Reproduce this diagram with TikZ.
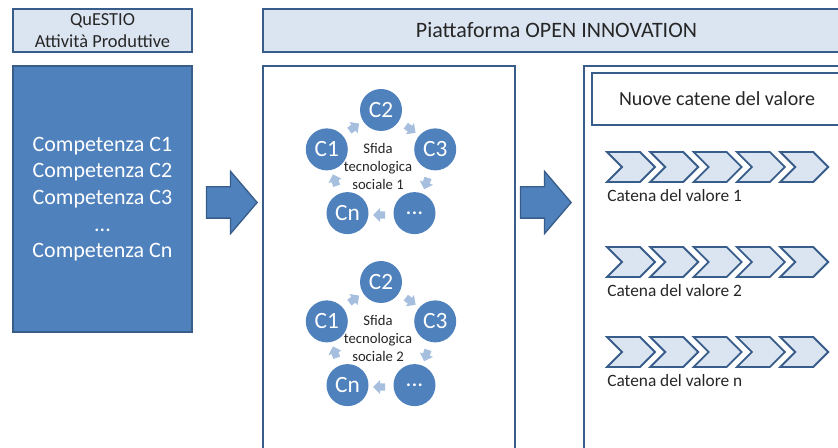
\documentclass[tikz,border=0pt]{standalone}
\usepackage{fontspec}
\setmainfont{Carlito}
\usepackage{tikz}
\usetikzlibrary{shapes.symbols, shapes.arrows, calc}

\definecolor{pblue}{HTML}{4F81BD}
\definecolor{pborder}{HTML}{385D8A}
\definecolor{plight}{HTML}{DBE5F1}
\definecolor{parrow}{HTML}{A7BFDE}
\definecolor{ptext}{HTML}{262626}

\begin{document}
\begin{tikzpicture}[x=0.75pt, y=-0.75pt,
    box/.style={rectangle, draw=pborder, line width=1.4pt, inner sep=0pt},
    headbox/.style={box, fill=plight, text=ptext},
    bigarrow/.style={single arrow, fill=pblue, draw=pborder, line width=1pt,
      inner sep=0pt, text height=22.5pt, minimum height=38pt, anchor=tip,
      single arrow head extend=11.6pt, single arrow tip angle=99},
    comp/.style={circle, fill=pblue, text=white, minimum size=31.5pt,
      inner sep=0pt, font=\fontsize{17.5}{20}\selectfont},
    cyarrow/.style={single arrow, fill=parrow, inner sep=0pt, text height=5pt,
      minimum height=9pt, single arrow head extend=2.5pt},
    chev/.style={signal, signal from=west, signal to=east, signal pointer angle=90,
      draw=pborder, fill=plight, line width=1.4pt, minimum width=36pt,
      minimum height=22.5pt, inner sep=0pt},
    catlabel/.style={anchor=west, text=ptext, inner sep=0pt,
      font=\fontsize{13}{15}\selectfont}]
  \useasboundingbox (0,0) rectangle (838,448);
  \clip (0,0) rectangle (838,448);

  % left column
  \node[headbox, minimum width=134.25pt, minimum height=32.25pt, align=center,
    font=\fontsize{13.8}{16}\selectfont] (questio) at (102.5,30.5)
    {QuESTIO\\Attività Produttive};
  \node[box, fill=pblue, text=white, minimum width=134.25pt, minimum height=199.5pt,
    align=center, font=\fontsize{16.5}{20}\selectfont] (compet) at (102.5,199)
    {Competenza C1\\Competenza C2\\Competenza C3\\...\\Competenza Cn};

  % platform
  \node[headbox, minimum width=440.25pt, minimum height=32.25pt,
    font=\fontsize{16.5}{20}\selectfont] (piatt) at (556.5,30.5)
    {Piattaforma OPEN INNOVATION};
  \node[box, fill=white, minimum width=189pt, minimum height=295.5pt] (sfide) at (389,263) {};
  \node[box, fill=white, minimum width=207pt, minimum height=295.5pt] (catene) at (722,263) {};
  \node[box, fill=white, text=ptext, minimum width=187.5pt, minimum height=39pt,
    font=\fontsize{15}{18}\selectfont] (nuove) at (717,99) {Nuove catene del valore};

  % big arrows
  \node[bigarrow] (arr1) at (258,202.5) {};
  \node[bigarrow] (arr2) at (572,202.5) {};

  % cycles
  \foreach \k/\cy in {1/167, 2/339} {
    \coordinate (s\k) at (381,\cy);
    \node[comp] (s\k-c2) at ($(s\k)+(270:57)$) {C2};
    \node[comp] (s\k-c3) at ($(s\k)+(342:57)$) {C3};
    \node[comp] (s\k-cd) at ($(s\k)+(54:57)$) {...};
    \node[comp] (s\k-cn) at ($(s\k)+(126:57)$) {Cn};
    \node[comp] (s\k-c1) at ($(s\k)+(198:57)$) {C1};
    \node[align=center, text=ptext, inner sep=0pt, font=\fontsize{11}{13.5}\selectfont]
      (s\k-t) at ($(s\k)+(-3,-1)$) {Sfida\\tecnologica\\sociale \k};
    \foreach \a in {18,90,162,234,306}
      \node[cyarrow, rotate=-\a-90] (s\k-a\a) at ($(s\k)+(\a:48)$) {};
  }

  % value chains
  \foreach \r/\y/\t in {1/167/1, 2/262/2, 3/352/n} {
    \foreach \i in {0,...,4}
      \node[chev] (ch\r-\i) at (631+43.3*\i,\y) {};
    \node[catlabel] (cat\r) at (607,\y+29) {Catena del valore \t};
  }
\end{tikzpicture}
\end{document}
